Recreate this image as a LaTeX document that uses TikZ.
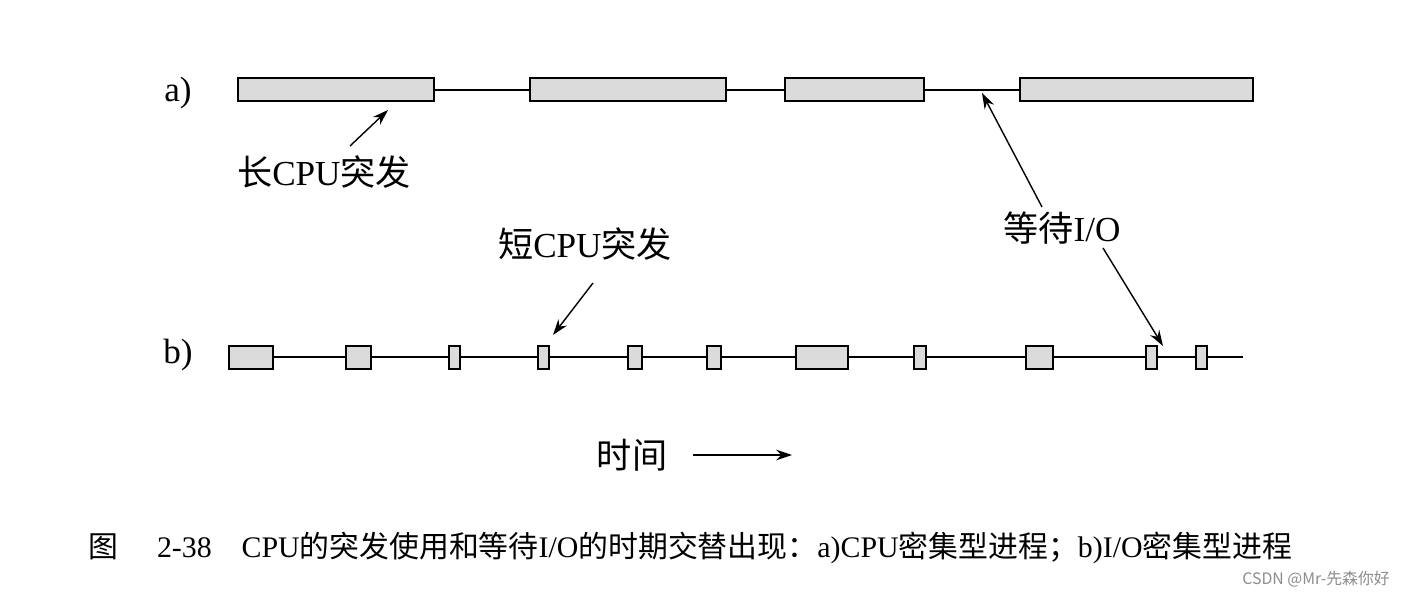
\documentclass[tikz,border=0pt]{standalone}
\usepackage{fontspec}
\setmainfont{Liberation Serif}
\newfontfamily\cjk{Noto Sans CJK SC}
\usetikzlibrary{arrows.meta}
\begin{document}
\begin{tikzpicture}[x=0.02cm,y=-0.02cm,
  burst/.style={draw=black,fill=black!14,line width=0.8pt},
  tl/.style={line width=0.9pt},
  lab/.style={font=\fontsize{20}{24}\selectfont,inner sep=0pt},
  arr/.style={-{Stealth[length=9pt,width=6pt]},line width=0.8pt}]
\useasboundingbox (0,0) rectangle (1404,598);
% row a
\node[lab] (la) at (178,93) {a)};
\draw[tl] (434,90) -- (1020,90);
\draw[burst] (238,78) rectangle (434,101);
\draw[burst] (530,78) rectangle (726,101);
\draw[burst] (785,78) rectangle (924,101);
\draw[burst] (1020,78) rectangle (1253,101);
\coordinate (pa) at (388,110);
\coordinate (pw) at (982,93);
% row b
\node[lab] (lb) at (178,355) {b)};
\draw[tl] (229,357) -- (1243,357);
\foreach \a/\b in {229/273,346/371,449/460,538/549,628/642,707/721,796/848,914/926,1026/1053,1146/1157,1196/1207}
  \draw[burst] (\a,346) rectangle (\b,369);
\coordinate (pb) at (553,335);
\coordinate (pw2) at (1163,346);
% labels
\node[lab] (long) at (324,172) {{\cjk 长}CPU{\cjk 突发}};
\draw[arr] (350,146) -- (pa);
\node[lab] (wait) at (1062,228) {{\cjk 等待}I/O};
\draw[arr] (1042,207) -- (pw);
\draw[arr] (1103,248) -- (pw2);
\node[lab] (short) at (585,244) {{\cjk 短}CPU{\cjk 突发}};
\draw[arr] (593,283) -- (pb);
\node[lab] (time) at (632,455) {\cjk 时间};
\coordinate (t1) at (693,455);
\coordinate (t2) at (792,455);
\draw[arr] (t1) -- (t2);
\node[font=\fontsize{17}{20}\selectfont,anchor=west,inner sep=0pt] (cap) at (88,548)
  {{\cjk 图}\hspace{1.3em}2-38\hspace{1em}CPU{\cjk 的突发使用和等待}I/O{\cjk 的时期交替出现：}a)CPU{\cjk 密集型进程；}b)I/O{\cjk 密集型进程}};
\node[font=\fontsize{9}{10}\selectfont,text=black!45,anchor=east,inner sep=0pt] (wm) at (1390,579) {{\cjk CSDN @Mr-先森你好}};
\end{tikzpicture}
\end{document}
